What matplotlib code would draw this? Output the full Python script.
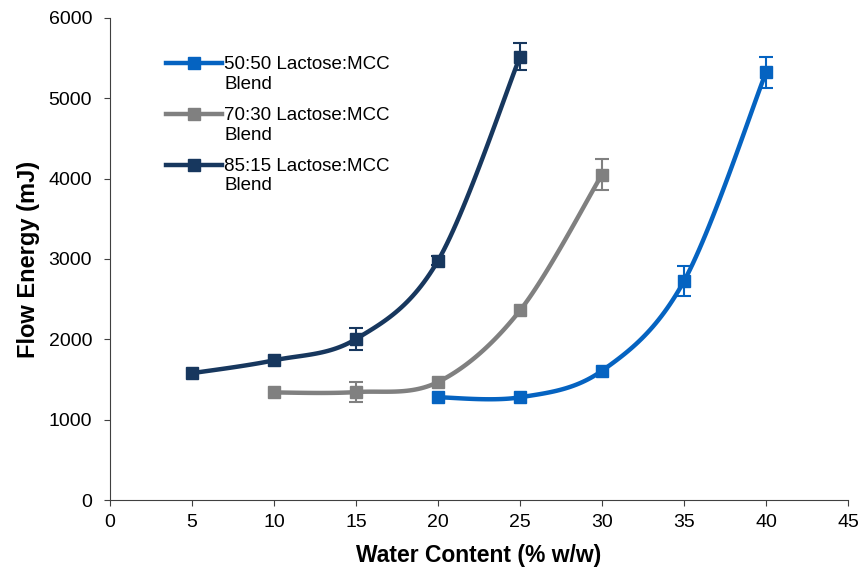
import numpy as np
import matplotlib
matplotlib.use('Agg')
import matplotlib.pyplot as plt
from matplotlib.lines import Line2D
from matplotlib.legend_handler import HandlerLine2D

plt.rcParams['font.family'] = ['Liberation Sans', 'DejaVu Sans']

# water content (% w/w)
x_5050 = [20, 25, 30, 35, 40]
y_5050 = [1280, 1280, 1610, 2725, 5320]
e_5050 = [0, 0, 0, 185, 195]

x_7030 = [10, 15, 20, 25, 30]
y_7030 = [1340, 1345, 1470, 2360, 4050]
e_7030 = [0, 125, 0, 0, 190]

x_8515 = [5, 10, 15, 20, 25]
y_8515 = [1580, 1740, 2005, 2980, 5515]
e_8515 = [0, 0, 140, 60, 170]

labels = ['50:50 Lactose:MCC\nBlend', '70:30 Lactose:MCC\nBlend', '85:15 Lactose:MCC\nBlend']
colors = ['#0563C1', '#808080', '#17375E']

x_ticks = list(range(0, 50, 5))
y_ticks = list(range(0, 7000, 1000))


def smooth(xs, ys, n=30):
    # excel style smoothed line (catmull-rom bezier)
    xs = np.asarray(xs, float)
    ys = np.asarray(ys, float)
    px = np.concatenate([[xs[0]], xs, [xs[-1]]])
    py = np.concatenate([[ys[0]], ys, [ys[-1]]])
    out_x, out_y = [], []
    t = np.linspace(0, 1, n)
    for i in range(1, len(px) - 2):
        p0 = np.array([px[i], py[i]])
        p3 = np.array([px[i + 1], py[i + 1]])
        c1 = p0 + (np.array([px[i + 1], py[i + 1]]) - np.array([px[i - 1], py[i - 1]])) / 6
        c2 = p3 - (np.array([px[i + 2], py[i + 2]]) - np.array([px[i], py[i]])) / 6
        b = ((1 - t) ** 3)[:, None] * p0 + (3 * (1 - t) ** 2 * t)[:, None] * c1 \
            + (3 * (1 - t) * t ** 2)[:, None] * c2 + (t ** 3)[:, None] * p3
        out_x.extend(b[:, 0])
        out_y.extend(b[:, 1])
    return out_x, out_y


class TopHandler(HandlerLine2D):
    # put the legend line next to the first text line, not the middle
    def create_artists(self, legend, orig_handle, xdescent, ydescent, width, height, fontsize, trans):
        arts = super().create_artists(legend, orig_handle, xdescent, ydescent, width, height, fontsize, trans)
        for a in arts:
            a.set_ydata(np.asarray(a.get_ydata()) + 0.6 * fontsize)
        return arts


fig = plt.figure(figsize=(8.6, 5.73), dpi=100)
ax = fig.add_axes([0.128, 0.127, 0.858, 0.842])

series = [
    (x_5050, y_5050, e_5050),
    (x_7030, y_7030, e_7030),
    (x_8515, y_8515, e_8515),
]
handles = []
for (xs, ys, es), c, lab in zip(series, colors, labels):
    sx, sy = smooth(xs, ys)
    ax.plot(sx, sy, color=c, lw=3.2, solid_capstyle='round', zorder=2)
    xe = [x for x, e in zip(xs, es) if e > 0]
    ye = [y for y, e in zip(ys, es) if e > 0]
    ee = [e for e in es if e > 0]
    ax.errorbar(xe, ye, yerr=ee, fmt='none', ecolor=c, elinewidth=1.5, capsize=5, capthick=1.5, zorder=3)
    ax.plot(xs, ys, ls='none', marker='s', ms=8.5, color=c, zorder=4)
    handles.append(Line2D([], [], color=c, lw=3.2, marker='s', ms=8.5))

ax.set_xlim(0, 45)
ax.set_ylim(0, 6000)
ax.set_xticks(x_ticks)
ax.set_yticks(y_ticks)
ax.tick_params(labelsize=14, length=4, width=0.8, color='#404040', direction='out', pad=6)
ax.tick_params(axis='y', pad=9)
for s in ['top', 'right']:
    ax.spines[s].set_visible(False)
for s in ['left', 'bottom']:
    ax.spines[s].set_color('#404040')
    ax.spines[s].set_linewidth(0.8)

ax.set_xlabel('Water Content (% w/w)', fontsize=16.5, fontweight='bold', labelpad=9)
ax.set_ylabel('Flow Energy (mJ)', fontsize=17, fontweight='bold', labelpad=6)

ax.legend(handles, labels, loc='upper left', bbox_to_anchor=(0.053, 0.955), frameon=False,
          fontsize=13.5, handlelength=3.0, handletextpad=0.1, labelspacing=0.75,
          handler_map={Line2D: TopHandler()})

fig.savefig('out.png', dpi=100)
